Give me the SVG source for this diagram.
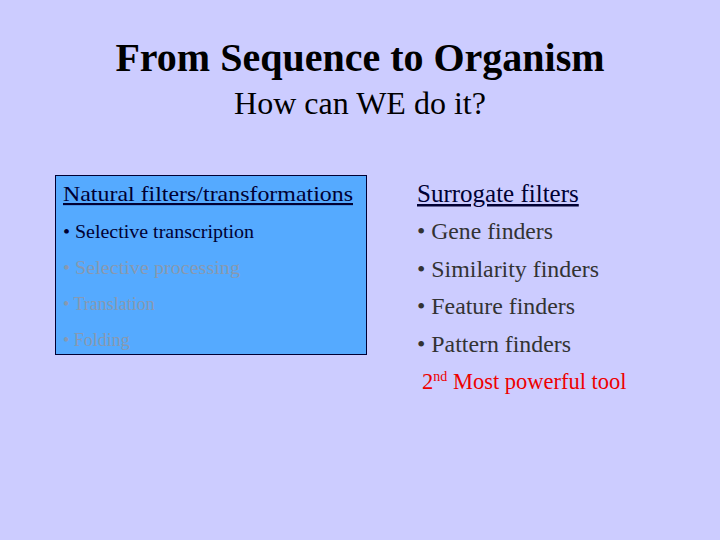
<svg xmlns="http://www.w3.org/2000/svg" width="720" height="540" viewBox="0 0 720 540" font-family="'Liberation Serif', serif">
<style>
.l{font-size:18px}
.r{font-size:22.5px;fill:#333333}
</style>
<rect width="720" height="540" fill="#ccccff"/>
<text x="360" y="71" text-anchor="middle" font-size="40" font-weight="bold" fill="#000000">From Sequence to Organism</text>
<text x="360" y="114" text-anchor="middle" font-size="32" fill="#000000">How can WE do it?</text>
<g id="box">
<rect x="55.5" y="175.5" width="311" height="179" fill="#55aaff" stroke="#000033" stroke-width="1"/>
<text x="63" y="201" fill="#000033" font-size="21.5" text-decoration="underline" textLength="290" lengthAdjust="spacingAndGlyphs">Natural filters/transformations</text>
<text class="l" x="63" y="238" fill="#000033" textLength="191" lengthAdjust="spacingAndGlyphs">• Selective transcription</text>
<text class="l" x="63" y="274" fill="#8899b0" textLength="177" lengthAdjust="spacingAndGlyphs">• Selective processing</text>
<text class="l" x="63" y="310" fill="#8899b0">• Translation</text>
<text class="l" x="63" y="346" fill="#8899b0">• Folding</text>
</g>
<g id="right">
<text x="417" y="202" font-size="25" fill="#000033" text-decoration="underline">Surrogate filters</text>
<text class="r" x="417" y="239" textLength="136" lengthAdjust="spacingAndGlyphs">• Gene finders</text>
<text class="r" x="417" y="277" textLength="182" lengthAdjust="spacingAndGlyphs">• Similarity finders</text>
<text class="r" x="417" y="314" textLength="158" lengthAdjust="spacingAndGlyphs">• Feature finders</text>
<text class="r" x="417" y="352" textLength="154" lengthAdjust="spacingAndGlyphs">• Pattern finders</text>
<text x="422" y="389" font-size="22.5" fill="#ee0000">2<tspan font-size="14" dy="-8">nd</tspan><tspan dy="8"> Most powerful tool</tspan></text>
</g>
</svg>
